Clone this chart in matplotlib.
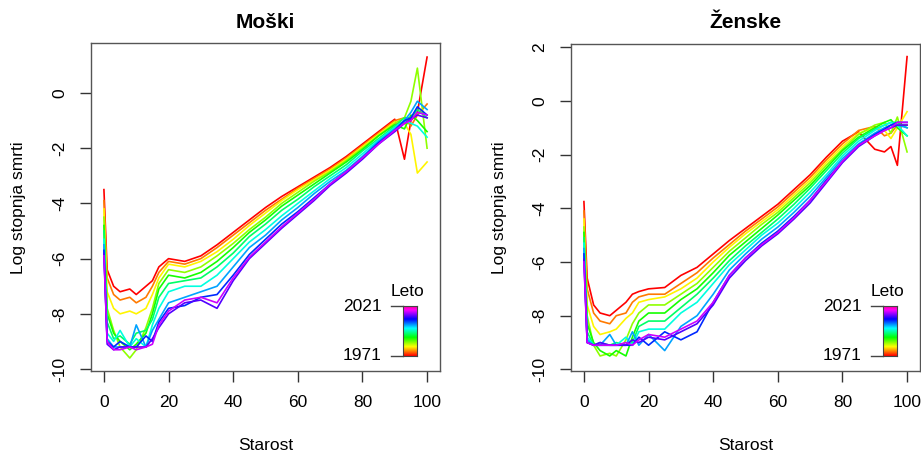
import matplotlib
matplotlib.use("Agg")
import matplotlib.pyplot as plt
import numpy as np
from matplotlib.colors import hsv_to_rgb

plt.rcParams['font.family'] = ['Liberation Sans', 'DejaVu Sans']

# ---------------- data (log death rates) ----------------
ages = [0, 1, 3, 5, 8, 10, 13, 15, 17, 20, 25, 30, 35, 40, 45, 50, 55, 60, 65, 70,
        75, 80, 85, 90, 93, 95, 97, 100]
years = [1971, 1976, 1981, 1986, 1991, 1996, 2001, 2006, 2011, 2016, 2021]

male_rates = [
    [-3.5, -6.4, -7.0, -7.2, -7.1, -7.3, -7.0, -6.8, -6.3, -6.0, -6.1, -5.9, -5.5, -5.05, -4.6, -4.15, -3.75, -3.4, -3.05, -2.7, -2.3, -1.85, -1.4, -0.95, -2.4, -1.0, -0.7, 1.3],
    [-3.9, -6.7, -7.3, -7.5, -7.4, -7.6, -7.4, -7.0, -6.5, -6.1, -6.2, -6.0, -5.6, -5.15, -4.7, -4.25, -3.85, -3.45, -3.1, -2.75, -2.35, -1.9, -1.45, -1.0, -0.9, -1.2, -0.8, -0.4],
    [-4.2, -7.2, -7.8, -8.0, -7.9, -8.0, -7.8, -7.3, -6.7, -6.2, -6.3, -6.1, -5.75, -5.3, -4.8, -4.35, -3.9, -3.5, -3.15, -2.8, -2.4, -1.95, -1.5, -1.05, -1.1, -1.5, -2.9, -2.5],
    [-4.5, -7.8, -8.6, -9.2, -9.6, -9.3, -8.5, -7.8, -6.9, -6.4, -6.5, -6.3, -5.9, -5.45, -4.95, -4.5, -4.0, -3.6, -3.2, -2.85, -2.45, -2.0, -1.55, -1.1, -0.9, -0.3, 0.9, -2.0],
    [-4.8, -8.0, -8.7, -9.0, -9.3, -9.1, -8.7, -8.0, -7.1, -6.6, -6.7, -6.5, -6.1, -5.6, -5.05, -4.6, -4.1, -3.7, -3.3, -2.9, -2.5, -2.05, -1.55, -1.15, -1.3, -0.8, -1.0, -1.4],
    [-5.0, -8.3, -8.9, -8.8, -9.1, -8.7, -8.6, -8.2, -7.4, -6.9, -6.8, -6.7, -6.3, -5.8, -5.2, -4.75, -4.25, -3.85, -3.4, -3.0, -2.6, -2.1, -1.65, -1.2, -0.9, -0.9, -0.6, -0.9],
    [-5.3, -8.7, -9.0, -8.6, -9.2, -8.9, -9.2, -8.4, -7.8, -7.2, -7.0, -7.0, -6.6, -6.0, -5.4, -4.95, -4.45, -4.0, -3.55, -3.1, -2.7, -2.2, -1.7, -1.25, -1.0, -1.1, -1.2, -1.6],
    [-5.5, -8.9, -9.2, -9.2, -9.2, -8.4, -9.2, -8.6, -8.2, -7.6, -7.4, -7.2, -7.0, -6.3, -5.6, -5.15, -4.6, -4.15, -3.65, -3.2, -2.8, -2.3, -1.75, -1.3, -1.0, -0.7, -0.3, -0.6],
    [-5.7, -9.0, -9.2, -9.0, -9.2, -9.2, -8.8, -9.0, -8.3, -7.8, -7.7, -7.4, -7.3, -6.6, -5.85, -5.3, -4.75, -4.3, -3.8, -3.3, -2.85, -2.35, -1.8, -1.35, -1.0, -0.9, -0.5, -0.8],
    [-5.8, -9.1, -9.3, -9.2, -9.2, -9.2, -9.2, -8.9, -8.5, -8.0, -7.6, -7.5, -7.8, -6.8, -6.0, -5.45, -4.9, -4.4, -3.9, -3.35, -2.9, -2.4, -1.85, -1.4, -1.1, -0.95, -0.8, -0.9],
    [-5.9, -9.0, -9.3, -9.3, -9.2, -9.3, -9.2, -9.1, -8.4, -7.9, -7.5, -7.4, -7.6, -6.7, -5.95, -5.4, -4.85, -4.35, -3.85, -3.3, -2.85, -2.35, -1.85, -1.35, -1.1, -1.0, -0.7, -0.8],
]

female_rates = [
    [-3.75, -6.6, -7.6, -7.9, -8.0, -7.8, -7.5, -7.2, -7.1, -7.0, -6.95, -6.5, -6.2, -5.7, -5.2, -4.75, -4.3, -3.85, -3.3, -2.75, -2.1, -1.5, -1.15, -1.8, -1.9, -1.7, -2.4, 1.65],
    [-4.1, -7.0, -7.9, -8.2, -8.3, -8.0, -7.9, -7.5, -7.3, -7.2, -7.2, -6.8, -6.4, -5.85, -5.35, -4.85, -4.4, -3.95, -3.4, -2.85, -2.2, -1.6, -1.1, -0.95, -1.3, -1.2, -0.9, -0.9],
    [-4.4, -7.6, -8.4, -8.7, -8.6, -8.5, -8.1, -7.9, -7.5, -7.4, -7.3, -7.0, -6.6, -6.0, -5.45, -4.95, -4.5, -4.05, -3.5, -2.95, -2.3, -1.7, -1.2, -1.0, -1.1, -1.4, -1.0, -0.4],
    [-4.7, -8.0, -9.1, -9.5, -9.4, -9.5, -8.9, -8.3, -7.9, -7.6, -7.6, -7.2, -6.8, -6.2, -5.6, -5.1, -4.6, -4.15, -3.6, -3.05, -2.4, -1.8, -1.25, -0.9, -0.8, -1.2, -0.6, -1.9],
    [-4.9, -8.3, -9.0, -9.3, -9.5, -9.3, -9.5, -8.8, -8.2, -7.9, -7.9, -7.4, -7.0, -6.4, -5.75, -5.25, -4.75, -4.25, -3.7, -3.15, -2.5, -1.85, -1.35, -1.0, -0.8, -0.7, -1.0, -1.3],
    [-5.1, -8.6, -9.1, -9.0, -9.1, -9.0, -9.1, -9.0, -8.4, -8.2, -8.2, -7.7, -7.2, -6.6, -5.95, -5.4, -4.9, -4.4, -3.85, -3.25, -2.6, -1.95, -1.4, -1.05, -0.9, -0.8, -0.8, -1.0],
    [-5.3, -8.8, -9.1, -9.1, -9.1, -9.1, -8.8, -9.1, -8.6, -8.5, -8.5, -7.9, -7.5, -6.8, -6.1, -5.55, -5.0, -4.55, -4.0, -3.4, -2.75, -2.05, -1.5, -1.1, -0.9, -0.8, -0.9, -1.3],
    [-5.5, -8.9, -9.1, -9.1, -8.7, -9.1, -9.1, -8.6, -9.1, -8.7, -9.3, -8.4, -8.0, -7.2, -6.3, -5.7, -5.15, -4.7, -4.15, -3.55, -2.85, -2.15, -1.6, -1.2, -1.0, -0.9, -0.9, -1.0],
    [-5.7, -9.0, -9.1, -9.1, -9.1, -9.1, -9.1, -9.1, -8.8, -9.1, -8.6, -8.9, -8.6, -7.5, -6.5, -5.85, -5.3, -4.85, -4.3, -3.7, -2.95, -2.25, -1.65, -1.25, -1.05, -0.9, -0.8, -0.8],
    [-5.9, -9.0, -9.1, -9.0, -9.1, -9.1, -9.1, -8.9, -9.0, -8.8, -8.9, -8.6, -8.3, -7.6, -6.6, -5.95, -5.4, -4.95, -4.4, -3.8, -3.05, -2.3, -1.7, -1.3, -1.1, -1.0, -0.9, -0.9],
    [-6.0, -9.0, -9.1, -9.1, -9.1, -9.1, -9.0, -9.1, -8.9, -8.7, -8.8, -8.5, -8.2, -7.5, -6.5, -5.85, -5.35, -4.9, -4.35, -3.7, -3.0, -2.25, -1.65, -1.3, -1.1, -1.0, -0.8, -0.8],
]

x_ticks = [0, 20, 40, 60, 80, 100]
male_yticks = [-10, -8, -6, -4, -2, 0]
female_yticks = [-10, -8, -6, -4, -2, 0, 2]
titles = ["Moški", "Ženske"]
xlabel = "Starost"
ylabel = "Log stopnja smrti"
legend_title = "Leto"

# ---------------- drawing ----------------
FS = 12.5
W, H = 921, 454
fig = plt.figure(figsize=(W / 100, H / 100), dpi=100)

HUE_END = 0.8


def year_color(i, n):
    return hsv_to_rgb((HUE_END * i / (n - 1), 1.0, 1.0))


def panel(left_px, right_px, top_px, rates, yticks, ylim, title):
    bottom_px = 371
    ax = fig.add_axes([left_px / W, 1 - bottom_px / H,
                       (right_px - left_px) / W, (bottom_px - top_px) / H])
    n = len(years)
    for i, r in enumerate(rates):
        ax.plot(ages, r, color=year_color(i, n), lw=1.2, solid_joinstyle='round')
    ax.set_xlim(-4, 104)
    ax.set_ylim(*ylim)
    ax.set_xticks(x_ticks)
    ax.set_xticklabels([str(t) for t in x_ticks], fontsize=FS)
    ax.set_yticks(yticks)
    ax.set_yticklabels([str(t) for t in yticks], fontsize=FS, rotation=90, va='center')
    ax.tick_params(direction='out', length=8, width=1, color='#333333', pad=9)
    for s in ax.spines.values():
        s.set_color('#555555')
        s.set_linewidth(1.0)

    # colour legend
    bx0 = 0.893
    bw = 0.04
    by0, by1 = 0.046, 0.198
    cax = ax.inset_axes([bx0, by0, bw, by1 - by0])
    grad = np.array([hsv_to_rgb((0.9 * k / 99, 1, 1)) for k in range(100)])[:, None, :]
    cax.imshow(grad, aspect='auto', origin='lower')
    cax.set_xticks([])
    cax.set_yticks([])
    for s in cax.spines.values():
        s.set_color('#444444')
        s.set_linewidth(0.8)
    for yy in (by0, by1):
        ax.plot([bx0 - 0.033, bx0], [yy, yy], transform=ax.transAxes,
                color='#444444', lw=1.0, clip_on=False)
    ax.text(bx0 - 0.06, by1, str(years[-1]), transform=ax.transAxes,
            ha='right', va='center', fontsize=FS)
    ax.text(bx0 - 0.06, by0, str(years[0]), transform=ax.transAxes,
            ha='right', va='center', fontsize=FS)
    ax.text(bx0 + bw / 2 - 0.005, 0.242, legend_title, transform=ax.transAxes,
            ha='center', va='center', fontsize=FS)

    cx = (left_px + right_px) / 2 / W
    fig.text(cx, 1 - 23 / H, title, ha='center', va='center',
             fontsize=15, fontweight='bold')
    fig.text(cx, 1 - 445 / H, xlabel, ha='center', va='center', fontsize=FS)
    fig.text((left_px - 72) / W, 1 - 208 / H, ylabel, ha='center', va='center',
             rotation=90, fontsize=FS)
    return ax


panel(91, 440, 43, male_rates, male_yticks, (-10.07, 1.81), titles[0])
panel(571, 920, 44, female_rates, female_yticks, (-10.06, 2.12), titles[1])

fig.savefig("out.png", dpi=100)
